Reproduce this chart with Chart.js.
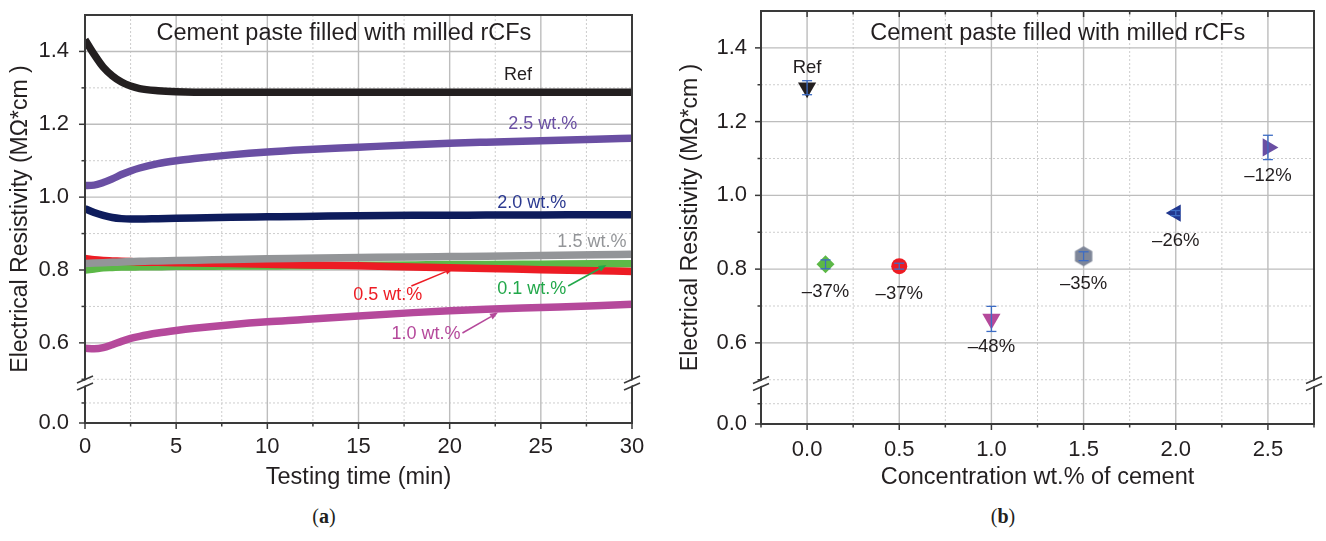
<!DOCTYPE html>
<html>
<head>
<meta charset="utf-8">
<title>Electrical resistivity – cement paste filled with milled rCFs</title>
<script src="https://cdn.jsdelivr.net/npm/chart.js@4.4.1/dist/chart.umd.min.js"></script>
<style>
  html, body { margin: 0; padding: 0; background: #fff; }
  body { position: relative; width: 1326px; height: 541px; overflow: hidden; }
  .panel { position: absolute; top: 0; height: 500px; }
  #panelA { left: 0; width: 660px; }
  #panelB { left: 660px; width: 666px; }
  .caption { position: absolute; top: 505px; transform: translateX(-50%);
             font: 20px "Liberation Serif", "DejaVu Serif", serif; color: #231f20; }
</style>
</head>
<body>
<div class="panel" id="panelA"><canvas id="chartA"></canvas></div>
<div class="panel" id="panelB"><canvas id="chartB"></canvas></div>
<div class="caption" style="left:324px">(<b>a</b>)</div>
<div class="caption" style="left:1003px">(<b>b</b>)</div>
<script>
// (a) resistivity during the test, one array per fibre content
const timeMin = [0, 0.5, 1, 1.5, 2, 2.5, 3, 4, 5, 6, 8, 10, 12, 15, 18, 20, 22, 25, 28, 30];
const resRef  = [1.432, 1.392, 1.357, 1.333, 1.316, 1.305, 1.298, 1.292, 1.289, 1.288, 1.288, 1.288, 1.288, 1.288, 1.288, 1.288, 1.288, 1.288, 1.288, 1.288];
const res25   = [1.032, 1.033, 1.040, 1.050, 1.062, 1.072, 1.080, 1.092, 1.100, 1.106, 1.116, 1.124, 1.130, 1.137, 1.144, 1.148, 1.151, 1.155, 1.159, 1.162];
const res20   = [0.968, 0.958, 0.950, 0.944, 0.941, 0.940, 0.940, 0.941, 0.942, 0.943, 0.945, 0.946, 0.947, 0.949, 0.950, 0.950, 0.951, 0.951, 0.952, 0.952];
const res15   = [0.818, 0.819, 0.820, 0.821, 0.822, 0.823, 0.824, 0.825, 0.826, 0.827, 0.829, 0.831, 0.832, 0.834, 0.836, 0.837, 0.838, 0.840, 0.842, 0.843];
const res05   = [0.832, 0.828, 0.826, 0.825, 0.824, 0.823, 0.822, 0.821, 0.820, 0.819, 0.818, 0.816, 0.814, 0.812, 0.808, 0.806, 0.804, 0.801, 0.798, 0.796];
const res01   = [0.800, 0.803, 0.806, 0.807, 0.808, 0.808, 0.809, 0.809, 0.810, 0.810, 0.811, 0.811, 0.812, 0.813, 0.814, 0.815, 0.815, 0.816, 0.817, 0.817];
const res10   = [0.585, 0.584, 0.587, 0.595, 0.604, 0.612, 0.618, 0.627, 0.634, 0.640, 0.650, 0.658, 0.664, 0.674, 0.683, 0.688, 0.692, 0.697, 0.702, 0.706];

// (b) mean resistivity per concentration, with error and change vs. Ref
const concWt   = [0, 0.1, 0.5, 1.0, 1.5, 2.0, 2.5];
const concRes  = [1.292, 0.813, 0.808, 0.665, 0.835, 0.952, 1.130];
const concErr  = [0.019, 0.012, 0.008, 0.034, 0.012, 0.007, 0.033];
const concNote = ['Ref', '–37%', '–37%', '–48%', '–35%', '–26%', '–12%'];

// shared broken y axis: the "0.0" tick sits just below the break
const Y_ZERO_AT = 0.38;
const BREAK_AT = 0.49;
const yMajor = [Y_ZERO_AT, 0.6, 0.8, 1.0, 1.2, 1.4];
const yMajorText = ['0.0', '0.6', '0.8', '1.0', '1.2', '1.4'];
const yMinor = [0.435, 0.5, 0.7, 0.9, 1.1, 1.3];

const xMajorA = [0, 5, 10, 15, 20, 25, 30];
const xMinorA = [2.5, 7.5, 12.5, 17.5, 22.5, 27.5];
const xMajorB = [0, 0.5, 1.0, 1.5, 2.0, 2.5];
const xMinorB = [-0.25, 0.25, 0.75, 1.25, 1.75, 2.25, 2.75];

const TITLE = 'Cement paste filled with milled rCFs';

// curve labels of (a), anchored in data units
const curveNotes = [
  { text: 'Ref',      t: 23.75, v: 1.335, color: '#231f20' },
  { text: '2.5 wt.%', t: 25.1,  v: 1.200, color: '#6a4fa3' },
  { text: '2.0 wt.%', t: 24.5,  v: 0.985, color: '#2b3990' },
  { text: '1.5 wt.%', t: 27.8,  v: 0.877, color: '#939598' },
  { text: '0.5 wt.%', t: 16.6,  v: 0.731, color: '#ed1c24', arrow: [17.9, 0.756, 20.2, 0.804] },
  { text: '0.1 wt.%', t: 24.5,  v: 0.748, color: '#22a84a', arrow: [26.5, 0.756, 28.6, 0.814] },
  { text: '1.0 wt.%', t: 18.7,  v: 0.625, color: '#b5499b', arrow: [20.7, 0.627, 22.65, 0.683] }
];

const FONT = '"Liberation Sans", Arial, Helvetica, sans-serif';
const INK = '#231f20';
const AXIS = '#3a3a3a';
Chart.defaults.font.family = FONT;
Chart.defaults.color = INK;

function seg(ctx, x1, y1, x2, y2) {
  ctx.beginPath();
  ctx.moveTo(x1, y1);
  ctx.lineTo(x2, y2);
  ctx.stroke();
}

function arrow(ctx, x1, y1, x2, y2, color) {
  const ang = Math.atan2(y2 - y1, x2 - x1);
  const L = 8, W = 3.2;
  const bx = x2 - L * Math.cos(ang), by = y2 - L * Math.sin(ang);
  ctx.strokeStyle = color;
  ctx.fillStyle = color;
  ctx.lineWidth = 1.5;
  seg(ctx, x1, y1, bx, by);
  ctx.beginPath();
  ctx.moveTo(x2, y2);
  ctx.lineTo(bx - W * Math.sin(ang), by + W * Math.cos(ang));
  ctx.lineTo(bx + W * Math.sin(ang), by - W * Math.cos(ang));
  ctx.closePath();
  ctx.fill();
}

function hexMarker(r, color) {
  const c = document.createElement('canvas');
  c.width = Math.ceil(r * 1.75) + 2;
  c.height = Math.ceil(r * 2) + 2;
  const g = c.getContext('2d');
  g.fillStyle = color;
  g.beginPath();
  for (let k = 0; k < 6; k++) {
    const a = Math.PI / 3 * k - Math.PI / 2;
    const px = c.width / 2 + r * Math.cos(a), py = c.height / 2 + r * Math.sin(a);
    if (k) g.lineTo(px, py); else g.moveTo(px, py);
  }
  g.closePath();
  g.fill();
  return c;
}

// grid, frame, tick marks, axis breaks and in-plot title
function decor(o) {
  return {
    id: 'decor',
    beforeDatasetsDraw(chart) {
      const { ctx, chartArea: a, scales: { x, y } } = chart;
      const vLine = v => { const p = x.getPixelForValue(v); if (p > a.left + 1 && p < a.right - 1) seg(ctx, p, a.top, p, a.bottom); };
      const hLine = v => { const p = y.getPixelForValue(v); if (p > a.top + 1 && p < a.bottom - 1) seg(ctx, a.left, p, a.right, p); };
      ctx.save();
      ctx.strokeStyle = '#cdcdcd';
      ctx.lineWidth = 1;
      ctx.setLineDash([2, 2]);
      o.xMinor.forEach(vLine);
      yMinor.forEach(hLine);
      ctx.setLineDash([]);
      ctx.strokeStyle = '#bdbdbd';
      ctx.lineWidth = 1.4;
      o.xMajor.forEach(vLine);
      yMajor.forEach(hLine);
      ctx.restore();
    },
    afterDatasetsDraw(chart) {
      const { ctx, chartArea: a, scales: { x, y } } = chart;
      ctx.save();
      ctx.strokeStyle = AXIS;
      ctx.lineWidth = 2;
      ctx.strokeRect(a.left, a.top, a.right - a.left, a.bottom - a.top);

      ctx.lineWidth = 1.5;
      o.xMajor.forEach(v => {
        const p = x.getPixelForValue(v);
        seg(ctx, p, a.bottom, p, a.bottom + 6);
        if (o.topTicks) seg(ctx, p, a.top, p, a.top + 6);
      });
      o.xMinor.forEach(v => {
        const p = x.getPixelForValue(v);
        seg(ctx, p, a.bottom, p, a.bottom + 3.5);
        if (o.topTicks) seg(ctx, p, a.top, p, a.top + 3.5);
      });
      yMajor.forEach(v => { const p = y.getPixelForValue(v); seg(ctx, a.left - 6, p, a.left, p); });
      yMinor.forEach(v => { const p = y.getPixelForValue(v); seg(ctx, a.left - 3.5, p, a.left, p); });

      // "//" marks where the y axis is broken
      const yb = y.getPixelForValue(BREAK_AT);
      [a.left, a.right].forEach(xb => {
        ctx.fillStyle = '#fff';
        ctx.beginPath();
        ctx.moveTo(xb - 3, yb - 1.2);
        ctx.lineTo(xb + 3, yb - 3.8);
        ctx.lineTo(xb + 3, yb + 1.2);
        ctx.lineTo(xb - 3, yb + 3.8);
        ctx.closePath();
        ctx.fill();
        ctx.strokeStyle = AXIS;
        ctx.lineWidth = 1.6;
        seg(ctx, xb - 8, yb, xb + 8, yb - 7);
        seg(ctx, xb - 8, yb + 7, xb + 8, yb);
      });

      ctx.fillStyle = INK;
      ctx.font = '23.5px ' + FONT;
      ctx.textAlign = 'center';
      ctx.textBaseline = 'middle';
      ctx.fillText(TITLE, x.getPixelForValue(o.titleAt[0]), y.getPixelForValue(o.titleAt[1]));
      ctx.restore();
    }
  };
}

const curveLabels = {
  id: 'curveLabels',
  afterDatasetsDraw(chart) {
    const { ctx, scales: { x, y } } = chart;
    ctx.save();
    ctx.font = '18px ' + FONT;
    ctx.textAlign = 'center';
    ctx.textBaseline = 'middle';
    curveNotes.forEach(n => {
      ctx.fillStyle = n.color;
      ctx.fillText(n.text, x.getPixelForValue(n.t), y.getPixelForValue(n.v));
      if (n.arrow) {
        const [t1, v1, t2, v2] = n.arrow;
        arrow(ctx, x.getPixelForValue(t1), y.getPixelForValue(v1), x.getPixelForValue(t2), y.getPixelForValue(v2), n.color);
      }
    });
    ctx.restore();
  }
};

const errorBars = {
  id: 'errorBars',
  afterDatasetsDraw(chart) {
    const { ctx, scales: { x, y } } = chart;
    ctx.save();
    ctx.strokeStyle = '#3d6cc4';
    ctx.lineWidth = 1.3;
    concWt.forEach((w, i) => {
      const px = x.getPixelForValue(w);
      const hi = y.getPixelForValue(concRes[i] + concErr[i]);
      const lo = y.getPixelForValue(concRes[i] - concErr[i]);
      seg(ctx, px, hi, px, lo);
      seg(ctx, px - 5, hi, px + 5, hi);
      seg(ctx, px - 5, lo, px + 5, lo);
    });
    ctx.fillStyle = INK;
    ctx.font = '18.5px ' + FONT;
    ctx.textAlign = 'center';
    ctx.textBaseline = 'middle';
    concWt.forEach((w, i) => {
      const dy = i === 0 ? -20 : 28;
      ctx.fillText(concNote[i], x.getPixelForValue(w), y.getPixelForValue(concRes[i]) + dy);
    });
    ctx.restore();
  }
};

function yAxis(width, labelPad, titlePad) {
  return {
    type: 'linear',
    min: Y_ZERO_AT,
    max: 1.5,
    grid: { display: false, drawTicks: false },
    border: { display: false },
    afterBuildTicks: s => { s.ticks = yMajor.map(v => ({ value: v })); },
    // fixed axis box; no extra room for half-labels at the ends
    afterFit: s => { s.width = width; s.paddingTop = 0; s.paddingBottom = 0; },
    ticks: { autoSkip: false, padding: labelPad, font: { size: 22 }, color: INK,
             callback: (v, i) => yMajorText[i] },
    title: { display: true, text: 'Electrical Resistivity (MΩ*cm )', font: { size: 23 }, color: INK,
             padding: { top: titlePad, bottom: 0 } }
  };
}

function xAxis(min, max, ticks, fmt, height, labelPad, title) {
  return {
    type: 'linear',
    min: min,
    max: max,
    grid: { display: false, drawTicks: false },
    border: { display: false },
    afterBuildTicks: s => { s.ticks = ticks.map(v => ({ value: v })); },
    afterFit: s => { s.height = height; },
    ticks: { autoSkip: false, maxRotation: 0, padding: labelPad, font: { size: 22 }, color: INK, callback: fmt },
    title: { display: true, text: title, font: { size: 23.5 }, color: INK, padding: { top: 0, bottom: 8 } }
  };
}

function curve(values, color) {
  return {
    data: timeMin.map((t, i) => ({ x: t, y: values[i] })),
    borderColor: color,
    borderWidth: 7.5,
    pointRadius: 0,
    cubicInterpolationMode: 'monotone',
    fill: false
  };
}

new Chart(document.getElementById('chartA'), {
  type: 'line',
  data: {
    // first dataset is painted last, i.e. on top
    datasets: [
      curve(resRef, '#231f20'),
      curve(res25, '#6a4fa3'),
      curve(res20, '#0e1c5c'),
      curve(res15, '#939598'),
      curve(res05, '#ed1c24'),
      curve(res01, '#5cb847'),
      curve(res10, '#b5499b')
    ]
  },
  options: {
    responsive: true,
    maintainAspectRatio: false,
    animation: false,
    layout: { padding: { top: 15, right: 28, left: 0, bottom: 0 } },
    plugins: { legend: { display: false }, tooltip: { enabled: false } },
    scales: {
      x: xAxis(0, 30, xMajorA, v => String(v), 77, 11, 'Testing time (min)'),
      y: yAxis(85, 16, 7)
    }
  },
  plugins: [decor({ xMajor: xMajorA, xMinor: xMinorA, topTicks: false, titleAt: [14.2, 1.45] }), curveLabels]
});

new Chart(document.getElementById('chartB'), {
  type: 'scatter',
  data: {
    datasets: [{
      data: concWt.map((w, i) => ({ x: w, y: concRes[i] })),
      pointStyle: ['triangle', 'rectRot', 'circle', 'triangle', hexMarker(10, '#7e8698'), 'triangle', 'triangle'],
      pointRotation: [180, 0, 0, 180, 0, 270, 90],
      pointRadius: [10.5, 9, 8, 10.5, 10, 10, 10.5],
      pointBackgroundColor: ['#231f20', '#5cb847', '#ed1c24', '#b5499b', '#7e8698', '#20378f', '#6a4fa3'],
      pointBorderColor: ['#231f20', '#5cb847', '#ed1c24', '#b5499b', '#7e8698', '#20378f', '#6a4fa3'],
      pointBorderWidth: 0,
      showLine: false
    }]
  },
  options: {
    responsive: true,
    maintainAspectRatio: false,
    animation: false,
    layout: { padding: { top: 11, right: 12, left: 0, bottom: 0 } },
    plugins: { legend: { display: false }, tooltip: { enabled: false } },
    scales: {
      x: xAxis(-0.25, 2.75, xMajorB, v => v.toFixed(1), 76, 13, 'Concentration wt.% of cement'),
      y: yAxis(101, 14, 17)
    }
  },
  plugins: [decor({ xMajor: xMajorB, xMinor: xMinorB, topTicks: true, titleAt: [1.36, 1.44] }), errorBars]
});
</script>
</body>
</html>
